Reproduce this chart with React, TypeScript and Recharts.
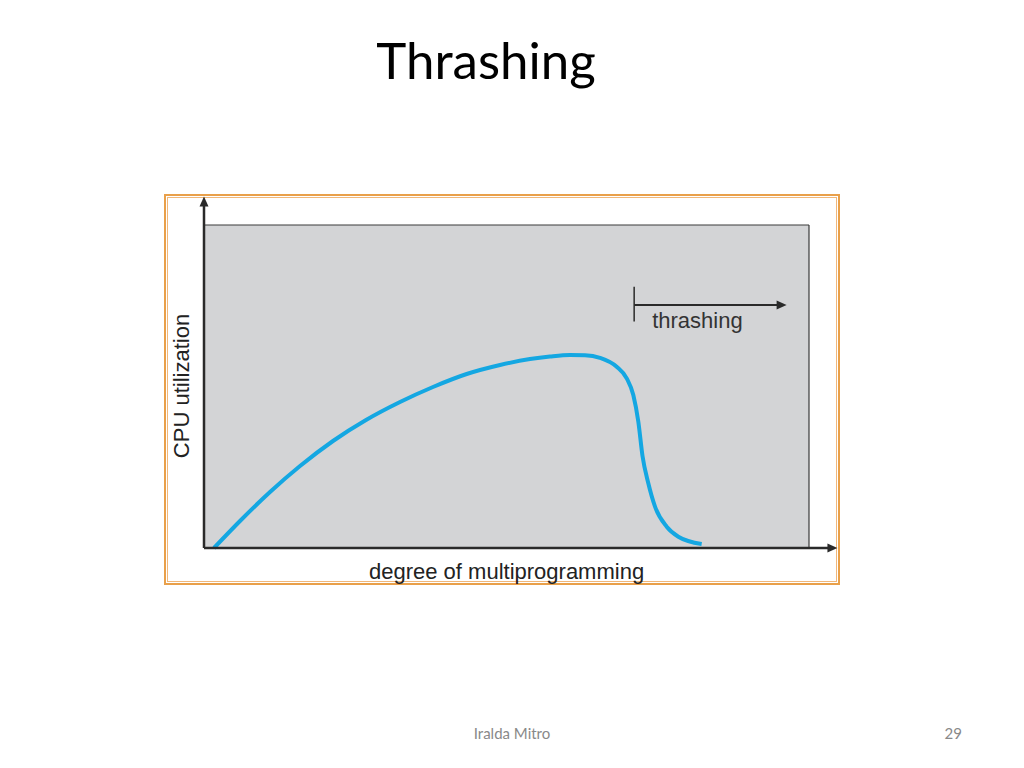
import React from 'react';
import { LineChart, Line, XAxis, YAxis, CartesianGrid, ReferenceLine } from 'recharts';

// degree of multiprogramming (x, 0-100) vs CPU utilization (y, 0-100)
const degree = [1.65, 5.95, 10.91, 15.87, 21.32, 26.78, 32.4, 37.85, 43.42, 48.93, 53.88, 57.19, 60.5, 62.98, 65.45, 68.21, 69.87, 70.96, 71.79, 72.48, 73.44, 74.55, 76.48, 78.4, 82.26];
const cpuUtil = [0, 8.36, 17.34, 25.39, 33.13, 39.63, 45.2, 49.85, 53.87, 56.66, 58.51, 59.29, 59.75, 59.69, 58.89, 56.13, 52.54, 47.37, 39.1, 28.48, 20.03, 12.79, 6.59, 3.5, 1.24];

const title = 'Thrashing';
const xLabel = 'degree of multiprogramming';
const yLabel = 'CPU utilization';
const thrashLabel = 'thrashing';
const footer = 'Iralda Mitro';
const pageNo = '29';

// thrashing region marker (data coords)
const thrashStart = 71.1;
const thrashEnd = 96.3;
const thrashY = 75.2;
const thrashTickTop = 80.9;
const thrashTickBottom = 70.1;
const yAxisTip = 108.8;
const xAxisTip = 104.7;

const data = degree.map((d, i) => ({ x: d, y: cpuUtil[i] }));

const AXIS = '#2a2a2a';

const arrowShape = (label?: string) => (p: any) => {
  const { x1, y1, x2, y2 } = p;
  const dx = x2 - x1;
  const dy = y2 - y1;
  const len = Math.sqrt(dx * dx + dy * dy) || 1;
  const ux = dx / len;
  const uy = dy / len;
  const L = 10;
  const W = 4.5;
  const bx = x2 - ux * L;
  const by = y2 - uy * L;
  const pts = `${x2},${y2} ${bx - uy * W},${by + ux * W} ${bx + uy * W},${by - ux * W}`;
  return (
    <g>
      <line x1={x1} y1={y1} x2={bx + ux * 2} y2={by + uy * 2} stroke={AXIS} strokeWidth={p.strokeWidth || 2.5} />
      <polygon points={pts} fill={AXIS} />
      {label ? (
        <text x={x1 + 18} y={y1 + 23} fontFamily="'Liberation Sans', Arial, sans-serif" fontSize={22} fill="#333">
          {label}
        </text>
      ) : null}
    </g>
  );
};

export default function App() {
  return (
    <div style={{ position: 'absolute', left: 0, top: 0, width: 1024, height: 768, background: '#fff', overflow: 'hidden' }}>
      <div
        style={{
          position: 'absolute',
          left: 0,
          width: 972,
          top: 30,
          textAlign: 'center',
          fontFamily: 'Lato, sans-serif',
          fontSize: 51,
          lineHeight: '60px',
          color: '#000',
        }}
      >
        {title}
      </div>

      {/* orange double frame */}
      <div style={{ position: 'absolute', left: 164, top: 194, width: 676, height: 391, border: '2px solid #E9A04A', boxSizing: 'border-box' }} />
      <div style={{ position: 'absolute', left: 167, top: 197, width: 670, height: 385, border: '1.5px solid #F0B77A', boxSizing: 'border-box' }} />

      <div style={{ position: 'absolute', left: 0, top: 0 }}>
        <LineChart width={1024} height={768} data={data} margin={{ top: 225, left: 204, right: 215, bottom: 220 }}>
          <CartesianGrid fill="#D3D4D6" horizontal={false} vertical={false} />
          <XAxis type="number" dataKey="x" domain={[0, 100]} hide />
          <YAxis type="number" domain={[0, 100]} hide />
          <ReferenceLine y={100} stroke="#3a3a3a" strokeWidth={1.2} ifOverflow="visible" />
          <ReferenceLine x={100} stroke="#3a3a3a" strokeWidth={1.2} ifOverflow="visible" />
          <Line
            type="monotone"
            dataKey="y"
            stroke="#14A7E2"
            strokeWidth={4}
            dot={false}
            isAnimationActive={false}
          />
          <ReferenceLine
            segment={[{ x: 0, y: 0 }, { x: 0, y: yAxisTip }]}
            ifOverflow="visible"
            stroke={AXIS}
            strokeWidth={2.5}
            shape={arrowShape()}
          />
          <ReferenceLine
            segment={[{ x: 0, y: 0 }, { x: xAxisTip, y: 0 }]}
            ifOverflow="visible"
            stroke={AXIS}
            strokeWidth={2.5}
            shape={arrowShape()}
          />
          <ReferenceLine
            segment={[{ x: thrashStart, y: thrashTickTop }, { x: thrashStart, y: thrashTickBottom }]}
            ifOverflow="visible"
            stroke={AXIS}
            strokeWidth={1.5}
          />
          <ReferenceLine
            segment={[{ x: thrashStart, y: thrashY }, { x: thrashEnd, y: thrashY }]}
            ifOverflow="visible"
            stroke={AXIS}
            strokeWidth={2}
            shape={arrowShape(thrashLabel)}
          />
        </LineChart>
      </div>

      {/* axis labels */}
      <div
        style={{
          position: 'absolute',
          left: 369,
          top: 559,
          fontFamily: "'Liberation Sans', Arial, sans-serif",
          fontSize: 22,
          lineHeight: '26px',
          color: '#222',
          whiteSpace: 'nowrap',
        }}
      >
        {xLabel}
      </div>
      <div
        style={{
          position: 'absolute',
          left: 182,
          top: 386,
          transform: 'translate(-50%, -50%) rotate(-90deg)',
          fontFamily: "'Liberation Sans', Arial, sans-serif",
          fontSize: 22,
          lineHeight: '26px',
          color: '#222',
          whiteSpace: 'nowrap',
        }}
      >
        {yLabel}
      </div>

      {/* footer */}
      <div
        style={{
          position: 'absolute',
          left: 412,
          width: 200,
          top: 723,
          textAlign: 'center',
          fontFamily: 'Lato, sans-serif',
          fontSize: 15,
          lineHeight: '20px',
          color: '#898989',
        }}
      >
        {footer}
      </div>
      <div
        style={{
          position: 'absolute',
          left: 900,
          width: 62,
          top: 723,
          textAlign: 'right',
          fontFamily: 'Lato, sans-serif',
          fontSize: 15,
          lineHeight: '20px',
          color: '#898989',
        }}
      >
        {pageNo}
      </div>
    </div>
  );
}
